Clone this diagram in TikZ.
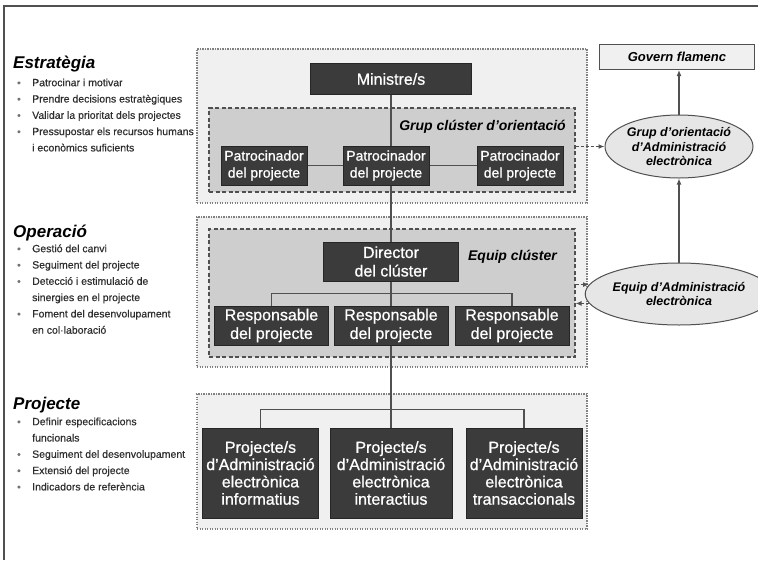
\documentclass[tikz,border=0pt]{standalone}
\usepackage{fontspec}
\setmainfont{Liberation Sans}
\newfontfamily\boxfont[FakeBold=0.8]{Liberation Sans}
\newfontfamily\taskfont[FakeBold=0.5]{Liberation Sans}
\usepackage{tikz}
\usetikzlibrary{shapes.geometric, arrows.meta, positioning, calc}
\definecolor{boxdark}{HTML}{3B3B3B}
\definecolor{regfill}{HTML}{F0F0F0}
\definecolor{clufill}{HTML}{CECECE}
\definecolor{ellfill}{HTML}{E6E6E6}
\definecolor{lingray}{HTML}{505050}
\definecolor{txtgray}{HTML}{2E2E2E}
\pgfdeclarelayer{regions}
\pgfdeclarelayer{links}
\pgfsetlayers{regions,links,main}
\newcommand{\blt}{\strut\makebox[15pt][l]{\fontsize{10}{10}\selectfont\textcolor{gray!90!black}{\textbullet}}}

\begin{document}
\begin{tikzpicture}[x=1pt, y=-1pt,
  region/.style={rectangle, draw=gray, fill=regfill, line width=1.1pt, dash pattern=on 1.2pt off 1.3pt, minimum width=390pt, inner sep=0},
  cluster/.style={rectangle, draw=lingray, fill=clufill, line width=1.1pt, dash pattern=on 4pt off 2.5pt, minimum width=366pt, inner sep=0},
  clulabel/.style={inner sep=0, font=\fontsize{14}{16}\selectfont\bfseries\itshape},
  role/.style={rectangle, draw=black!85, fill=boxdark, text=white, align=center, inner sep=0, line width=0.8pt},
  patro/.style={role, minimum width=86pt, minimum height=39pt, font=\boxfont\fontsize{14}{17}\selectfont},
  resp/.style={role, minimum width=114pt, minimum height=39pt, font=\boxfont\fontsize{16}{18.5}\selectfont},
  proj/.style={role, minimum width=116pt, minimum height=90pt, font=\boxfont\fontsize{16}{17.3}\selectfont},
  assoc/.style={ellipse, draw=lingray, fill=ellfill, line width=1pt, minimum width=148pt, inner sep=0, align=center, font=\fontsize{12.5}{14.8}\selectfont\bfseries\itshape},
  govbox/.style={rectangle, draw=lingray, fill=regfill, line width=1pt, minimum width=155pt, minimum height=25pt, inner sep=0, font=\fontsize{13}{15}\selectfont\bfseries\itshape},
  heading/.style={inner sep=0, font=\fontsize{17}{19}\selectfont\bfseries\itshape},
  tasks/.style={inner sep=0, align=left, text=txtgray, font=\taskfont\fontsize{10.5}{16.3}\selectfont},
  link/.style={line width=1.3pt, color=lingray},
  arr/.style={-{Latex[length=6pt,width=5pt]}, line width=1.2pt, color=lingray},
  darr/.style={arr, dash pattern=on 3pt off 2pt},
  frame/.style={line width=1.5pt, color=lingray},
]
\useasboundingbox (0,0) rectangle (758,560);
\draw[frame] (4,560) -- (4,6) -- (758,6);

\begin{pgfonlayer}{regions}
\node[region, minimum height=154pt] (reg1) at (392,126) {};
\node[cluster, minimum height=84pt] (clu1) at (392,150) {};
\node[region, minimum height=150pt] (reg2) at (392,292) {};
\node[cluster, minimum height=128pt] (clu2) at (392,293) {};
\node[region, minimum height=135pt] (reg3) at (392,461.5) {};
\end{pgfonlayer}

\node[clulabel, anchor=east] (lab1) at (566,127) {Grup clúster d’orientació};
\node[clulabel, anchor=east] (lab2) at (557,257) {Equip clúster};

\node[role, minimum width=161pt, minimum height=31pt, font=\boxfont\fontsize{16}{18}\selectfont] (min) at (391,79) {Ministre/s};
\node[patro] (pat1) at (264,165.5) {Patrocinador\\del projecte};
\node[patro] (pat2) at (386,165.5) {Patrocinador\\del projecte};
\node[patro] (pat3) at (520,165.5) {Patrocinador\\del projecte};
\node[resp, minimum width=135pt] (dir) at (391,261.5) {Director\\del clúster};
\node[resp] (res1) at (271.5,325.5) {Responsable\\del projecte};
\node[resp] (res2) at (391,325.5) {Responsable\\del projecte};
\node[resp] (res3) at (512,325.5) {Responsable\\del projecte};
\node[proj] (prj1) at (260.5,473) {Projecte/s\\d’Administració\\electrònica\\informatius};
\node[proj, minimum width=122pt] (prj2) at (391,473) {Projecte/s\\d’Administració\\electrònica\\interactius};
\node[proj] (prj3) at (524,473) {Projecte/s\\d’Administració\\electrònica\\transaccionals};

\node[govbox] (gov) at (677,57) {Govern flamenc};
\node[assoc, minimum height=63pt] (ega) at (679,146.5) {Grup d’orientació\\d’Administració\\electrònica};
\node[assoc, minimum height=62pt] (eea) at (679,294) {Equip d’Administració\\electrònica};

\begin{pgfonlayer}{links}
\draw[link] (min) -- (prj2);
\draw[link] (pat1) -- (pat3);
\draw[link] (res1.north) -- ++(0,-12) -| (res3.north);
\draw[link] (prj1.north) -- ++(0,-18) -| (prj3.north);
\end{pgfonlayer}

\draw[arr] (ega.north) -- (ega.north |- gov.south);
\draw[arr] (eea.north) -- (ega.south);
\draw[darr] (ega.west -| clu1.east) -- (ega.west);
\draw[darr] (eea.174 -| clu2.east) -- (eea.174);
\draw[darr] (eea.186) -- (eea.186 -| clu2.east);

\node[heading, anchor=base west] (hstr) at (13,68) {Estratègia};
\node[tasks, anchor=north west] (tstr) at (17,74.6) {\blt Patrocinar i motivar\\\blt Prendre decisions estratègiques\\\blt Validar la prioritat dels projectes\\\blt Pressupostar els recursos humans\\\strut\hspace*{15pt}i econòmics suficients};
\node[heading, anchor=base west] (hope) at (13,237) {Operació};
\node[tasks, anchor=north west] (tope) at (17,240.6) {\blt Gestió del canvi\\\blt Seguiment del projecte\\\blt Detecció i estimulació de\\\strut\hspace*{15pt}sinergies en el projecte\\\blt Foment del desenvolupament\\\strut\hspace*{15pt}en col·laboració};
\node[heading, anchor=base west] (hprj) at (13,409) {Projecte};
\node[tasks, anchor=north west] (tprj) at (17,413.6) {\blt Definir especificacions\\\strut\hspace*{15pt}funcionals\\\blt Seguiment del desenvolupament\\\blt Extensió del projecte\\\blt Indicadors de referència};
\end{tikzpicture}
\end{document}
